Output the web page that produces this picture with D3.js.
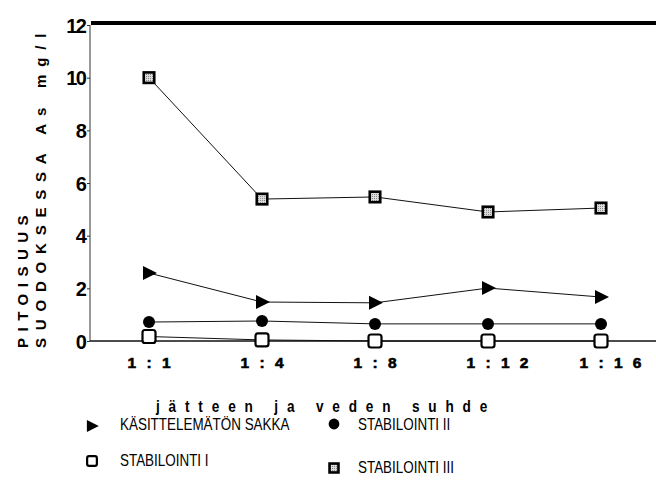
<!DOCTYPE html>
<html>
<head>
<meta charset="utf-8">
<script src="https://cdn.jsdelivr.net/npm/d3@7"></script>
<style>
  html, body { margin: 0; padding: 0; background: #fff; }
  svg { display: block; font-family: "Liberation Sans", Arial, sans-serif; }
</style>
</head>
<body>
<svg id="chart" width="656" height="502"></svg>
<script>
// Arsenic concentration in leachate vs. waste-to-water ratio
const categories = ["1:1", "1:4", "1:8", "1:12", "1:16"];
const categoryLabels = ["1 : 1", "1 : 4", "1 : 8", "1 : 1 2", "1 : 1 6"];
const untreated = [2.58, 1.48, 1.45, 2.01, 1.67];     // KÄSITTELEMÄTÖN SAKKA
const stab1 = [0.17, 0.04, 0.0, 0.0, 0.0];           // STABILOINTI I
const stab2 = [0.72, 0.76, 0.65, 0.65, 0.65];        // STABILOINTI II
const stab3 = [10.0, 5.39, 5.47, 4.9, 5.05];         // STABILOINTI III
const yTicks = [0, 2, 4, 6, 8, 10, 12];

const svg = d3.select("#chart");

// dotted grey fill used inside the STABILOINTI III squares
const defs = svg.append("defs");
const pat = defs.append("pattern").attr("id", "dots")
  .attr("width", 2).attr("height", 2).attr("patternUnits", "userSpaceOnUse");
pat.append("rect").attr("width", 2).attr("height", 2).attr("fill", "#ddd");
pat.append("rect").attr("width", 1).attr("height", 1).attr("fill", "#888");

const x = d3.scalePoint().domain(categories).range([149, 601]);
const y = d3.scaleLinear().domain([0, 12]).range([341, 25]);

const axisLeft = 90, axisRight = 656;

// frame: thin left and bottom axes, heavy top rule
svg.append("line").attr("x1", axisLeft).attr("x2", axisLeft)
  .attr("y1", y(12)).attr("y2", y(0)).attr("stroke", "#333").attr("stroke-width", 1);
svg.append("line").attr("x1", axisLeft).attr("x2", axisRight)
  .attr("y1", y(0)).attr("y2", y(0)).attr("stroke", "#111").attr("stroke-width", 1.3);
svg.append("line").attr("x1", axisLeft + 1).attr("x2", axisRight)
  .attr("y1", y(12) - 2).attr("y2", y(12) - 2).attr("stroke", "#000").attr("stroke-width", 4);

// y axis labels
const yAxis = d3.axisLeft(y).tickValues(yTicks).tickSize(3).tickPadding(2);
const gy = svg.append("g").attr("transform", `translate(${axisLeft},0)`).call(yAxis);
gy.select(".domain").remove();
gy.selectAll(".tick line").attr("stroke", "#333");
gy.selectAll(".tick text")
  .attr("font-size", 20).attr("font-weight", "bold").attr("fill", "#000")
  .attr("letter-spacing", -1.8).attr("dy", "0.36em");

// x category labels, set from a fixed offset left of each point
const xAxis = d3.axisBottom(x).tickSize(0).tickPadding(16)
  .tickFormat((d, i) => categoryLabels[i]);
const gx = svg.append("g").attr("transform", `translate(0,${y(0)})`).call(xAxis);
gx.select(".domain").remove();
gx.selectAll(".tick text")
  .attr("text-anchor", "start").attr("x", -22)
  .attr("font-size", 15.5).attr("font-weight", "900").attr("fill", "#000")
  .attr("stroke", "#000").attr("stroke-width", 0.6)
  .attr("letter-spacing", 3);

// axis titles
svg.append("g").attr("transform", "translate(156,412) scale(0.85,1)")
  .append("text")
  .attr("font-size", 16).attr("font-weight", "bold").attr("letter-spacing", 10.4)
  .text("jätteen ja veden suhde");

const yt = svg.append("g").attr("transform", "translate(28,348) rotate(-90)");
yt.append("text").attr("x", 0).attr("y", 0)
  .attr("font-size", 15).attr("font-weight", "bold").attr("letter-spacing", 6.5)
  .text("PITOISUUS");
yt.append("text").attr("x", 0).attr("y", 18)
  .attr("font-size", 15).attr("font-weight", "bold").attr("letter-spacing", 7.8)
  .text("SUODOKSESSA As mg/l");

// series lines
const line = d3.line().x((d, i) => x(categories[i])).y(d => y(d));
[stab3, untreated, stab2, stab1].forEach(s => {
  svg.append("path").datum(s).attr("d", line)
    .attr("fill", "none").attr("stroke", "#111").attr("stroke-width", 1);
});

// marker shapes (k scales the symbol)
function triangle(g, cx, cy, k = 1) {
  g.append("path")
    .attr("d", `M${cx - 6 * k},${cy - 7 * k}L${cx + 8 * k},${cy}L${cx - 6 * k},${cy + 7 * k}Z`)
    .attr("fill", "#000");
}
function dot(g, cx, cy, k = 1) {
  g.append("circle").attr("cx", cx).attr("cy", cy).attr("r", 6 * k).attr("fill", "#000");
}
function openSquare(g, cx, cy, k = 1) {
  const s = 13 * k;
  g.append("rect").attr("x", cx - s / 2).attr("y", cy - s / 2).attr("width", s).attr("height", s)
    .attr("rx", 2.5 * k).attr("fill", "#fff").attr("stroke", "#000").attr("stroke-width", 2.2);
}
function hatchSquare(g, cx, cy, k = 1) {
  const s = 10.5 * k;
  g.append("rect").attr("x", cx - s / 2).attr("y", cy - s / 2).attr("width", s).attr("height", s)
    .attr("fill", "url(#dots)").attr("stroke", "#000").attr("stroke-width", 2.6);
}

const marks = svg.append("g");
stab3.forEach((v, i) => hatchSquare(marks, x(categories[i]), y(v)));
untreated.forEach((v, i) => triangle(marks, x(categories[i]), y(v)));
stab2.forEach((v, i) => dot(marks, x(categories[i]), y(v)));
stab1.forEach((v, i) => openSquare(marks, x(categories[i]), y(v)));

// legend
const legend = svg.append("g");
const legendItems = [
  { name: "KÄSITTELEMÄTÖN SAKKA", draw: triangle, k: 0.85, mx: 92, my: 426, tx: 120, ty: 430 },
  { name: "STABILOINTI II", draw: dot, k: 0.9, mx: 334, my: 424, tx: 358, ty: 430 },
  { name: "STABILOINTI I", draw: openSquare, k: 0.75, mx: 92, my: 461, tx: 120, ty: 466 },
  { name: "STABILOINTI III", draw: hatchSquare, k: 0.85, mx: 334, my: 468, tx: 358, ty: 473 }
];
legendItems.forEach(it => {
  it.draw(legend, it.mx, it.my, it.k);
  legend.append("g").attr("transform", `translate(${it.tx},${it.ty}) scale(0.84,1)`)
    .append("text")
    .attr("font-size", 16).attr("fill", "#000")
    .text(it.name);
});
</script>
</body>
</html>
